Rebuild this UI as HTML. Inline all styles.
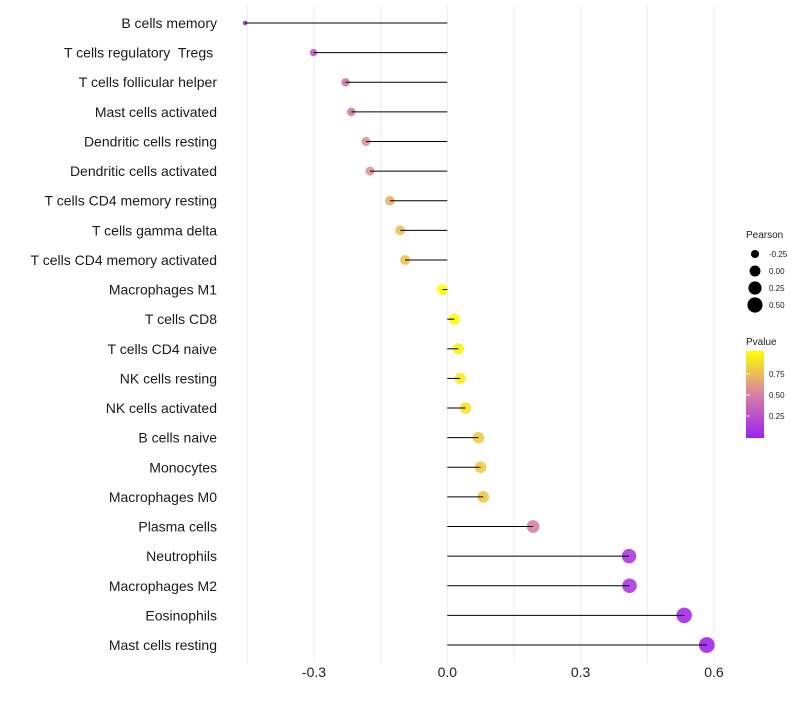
<!DOCTYPE html>
<html><head><meta charset="utf-8"><style>
body{margin:0;background:#fff;font-family:"Liberation Sans",sans-serif}
svg text{font-family:"Liberation Sans",sans-serif;white-space:pre}
</style></head><body>
<svg id="chart" width="800" height="700" xmlns="http://www.w3.org/2000/svg">
<defs><linearGradient id="pg" x1="0" y1="1" x2="0" y2="0">
<stop offset="0" stop-color="#a020f0"/><stop offset="0.5" stop-color="#d880a8"/><stop offset="1" stop-color="#ffff00"/></linearGradient></defs>
<g id="grid"></g>
<g id="marks"></g>
<g id="ylabels"></g>
<g id="xlabels"></g>
<g>
<text x="746" y="238" font-size="10" fill="#222">Pearson</text>
<g id="sizeleg"></g>
</g>
<g>
<text x="746" y="345" font-size="10" fill="#222">Pvalue</text>
<rect x="746" y="351" width="18" height="87" fill="url(#pg)"/>
<g id="colleg"></g>
</g>
</svg>
<script>
const categories=["B cells memory","T cells regulatory  Tregs ","T cells follicular helper","Mast cells activated","Dendritic cells resting","Dendritic cells activated","T cells CD4 memory resting","T cells gamma delta","T cells CD4 memory activated","Macrophages M1","T cells CD8","T cells CD4 naive","NK cells resting","NK cells activated","B cells naive","Monocytes","Macrophages M0","Plasma cells","Neutrophils","Macrophages M2","Eosinophils","Mast cells resting"];
const pearson=[-0.455,-0.301,-0.229,-0.216,-0.183,-0.174,-0.129,-0.106,-0.095,-0.011,0.016,0.025,0.029,0.041,0.07,0.075,0.081,0.193,0.409,0.41,0.533,0.584];
const pvalue=[0.03,0.3,0.45,0.47,0.55,0.57,0.68,0.75,0.77,1.0,0.98,0.95,0.93,0.88,0.8,0.8,0.78,0.5,0.12,0.12,0.05,0.02];
const xTicks=[-0.3,0.0,0.3,0.6];
const xTickLabels=["-0.3","0.0","0.3","0.6"];
const xMinor=[-0.45,-0.15,0.15,0.45];
const sizeLegendValues=[-0.25,0.0,0.25,0.5];
const sizeLegendLabels=["-0.25","0.00","0.25","0.50"];
const colorLegendValues=[0.25,0.5,0.75];
const colorLegendLabels=["0.25","0.50","0.75"];

const NS="http://www.w3.org/2000/svg";
const x=v=>447.3+v*444.4;
const y=i=>23+i*(622/21);
const r=p=>Math.sqrt(Math.max(4,30+55*p));
function col(p){
  const a=[160,32,240],m=[216,128,168],b=[255,255,0];
  let c;
  if(p<0.5){const t=p/0.5;c=a.map((v,k)=>v+(m[k]-v)*t);}else{const t=(p-0.5)/0.5;c=m.map((v,k)=>v+(b[k]-v)*t);}
  return `rgb(${c.map(Math.round).join(",")})`;
}
function el(tag,attrs,parent){const e=document.createElementNS(NS,tag);for(const k in attrs)e.setAttribute(k,attrs[k]);parent.appendChild(e);return e;}
const grid=document.getElementById('grid'),marks=document.getElementById('marks'),yl=document.getElementById('ylabels'),xl=document.getElementById('xlabels');
xMinor.concat(xTicks).forEach(v=>{
  const l=el('line',{x1:x(v),x2:x(v),y1:5,y2:663,stroke:'#ebebeb','stroke-width':1},grid);
  
  
});
xTicks.forEach((v,i)=>{
  const t=el('text',{x:x(v),y:677,'font-size':14,'text-anchor':'middle',fill:'#222'},xl);
  t.textContent=xTickLabels[i];
  
  
});
categories.forEach((c,i)=>{
  const t=el('text',{x:217,y:y(i)+5,'font-size':14,'text-anchor':'end',fill:'#1a1a1a'},yl);
  t.textContent=c;
  
  
  const d=el('circle',{cx:x(pearson[i]),cy:y(i),r:r(pearson[i]),fill:col(pvalue[i]),'fill-opacity':0.9},marks);
  
  
  const s=el('line',{x1:x(0),x2:x(pearson[i]),y1:y(i),y2:y(i),stroke:'#000','stroke-width':1},marks);
  
  
});
const sl=document.getElementById('sizeleg');
sizeLegendValues.forEach((v,i)=>{
  const yy=254+i*17;
  const c=el('circle',{cx:755,cy:yy,r:r(v),fill:'#000'},sl);
  
  
  const t=el('text',{x:769,y:yy+3,'font-size':8,fill:'#222'},sl);
  t.textContent=sizeLegendLabels[i];
  
  
});
const cl=document.getElementById('colleg');
colorLegendValues.forEach((v,i)=>{
  const yy=437-v*84;
  const t=el('text',{x:769,y:yy+3,'font-size':8,fill:'#222'},cl);
  t.textContent=colorLegendLabels[i];
  
  
  const tk=el('line',{x1:746,x2:750,y1:yy,y2:yy,stroke:'#fff','stroke-width':0.8},cl);
  
  
});
</script>
</body></html>
